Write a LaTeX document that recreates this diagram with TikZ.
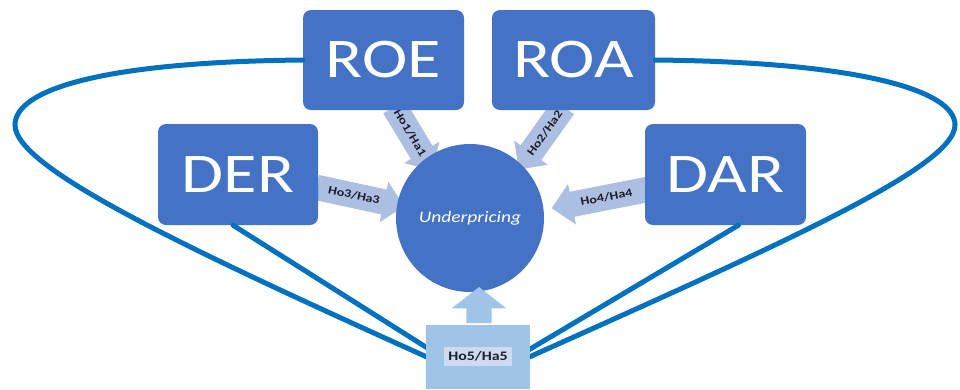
\documentclass[tikz,border=0pt]{standalone}
\usepackage{fontspec}
\setmainfont{Carlito}
\usetikzlibrary{shapes.arrows}
\definecolor{boxblue}{RGB}{68,114,196}
\definecolor{loopblue}{RGB}{0,112,192}
\definecolor{hypfill}{RGB}{172,190,226}
\definecolor{hfivefill}{RGB}{160,196,232}
\definecolor{hyplab}{RGB}{205,218,240}
\definecolor{hyptext}{RGB}{30,30,40}
\newcommand{\wide}[1]{\scalebox{1.22}[1]{#1}}
\tikzset{
  varbox/.style={fill=boxblue, rounded corners=8pt, text=white, inner sep=0pt,
    font=\fontsize{56}{56}\selectfont},
  hyparrow/.style={single arrow, fill=hypfill, text=hyptext, font=\fontsize{11.5}{11.5}\selectfont\bfseries,
    single arrow head extend=8pt, inner xsep=2pt, inner ysep=8pt, text height=8pt, text depth=1pt},
  loopline/.style={draw=loopblue, line width=5pt},
}
\begin{document}
\begin{tikzpicture}[x=1pt,y=-1pt,line join=round,line cap=round]
\useasboundingbox (0,0) rectangle (960,389);
% hypothesis arrows
\node[hyparrow, minimum height=74pt, rotate=-58.9] (h1) at (410,133) {\wide{Ho1/Ha1}};
\node[hyparrow, minimum height=77pt, rotate=54.5, shape border rotate=180] (h2) at (545,133) {\wide{Ho2/Ha2}};
\node[hyparrow, minimum height=90pt, rotate=-12.2] (h3) at (354,195.5) {\wide{Ho3/Ha3}};
\node[hyparrow, minimum height=99pt, rotate=11.1, shape border rotate=180] (h4) at (606.5,197.5) {\wide{Ho4/Ha4}};
% variables
\node[varbox, minimum width=161pt, minimum height=100pt] (roe) at (383.5,60) {\wide{ROE}};
\node[varbox, minimum width=163pt, minimum height=100pt] (roa) at (573.5,60) {\wide{ROA}};
\node[varbox, minimum width=160pt, minimum height=101pt] (der) at (238,174.5) {\wide{DER}};
\node[varbox, minimum width=161pt, minimum height=101pt] (dar) at (725.5,174.5) {\wide{DAR}};
\node[circle, fill=boxblue, minimum size=148pt, text=white, font=\fontsize{16}{16}\selectfont\itshape] (under) at (470,218) {\wide{Underpricing}};
% moderating loops
\coordinate (hub) at (478,380);
\draw[loopline] (roe.west) .. controls (100,62) and (15,90) .. (15,125) .. controls (15,170) and (200,255) .. (hub);
\draw[loopline] (roa.east) .. controls (858,62) and (955,90) .. (955,125) .. controls (955,170) and (756,255) .. (hub);
\draw[loopline] ([xshift=-5pt]der.south) -- (hub);
\draw[loopline] ([xshift=13pt]dar.south) -- (hub);
% Ho5 block
\node[fill=hfivefill, minimum width=104pt, minimum height=64pt, inner sep=0pt] (h5box) at (478,357) {};
\node[single arrow, fill=hfivefill, rotate=90, minimum height=36pt, inner ysep=12.5pt, inner xsep=0pt,
  single arrow head extend=14.5pt, single arrow tip angle=104] (h5arrow) at (479,310) {};
\node[fill=hyplab, text=hyptext, font=\fontsize{13}{13}\selectfont\bfseries, inner xsep=4pt, inner ysep=5pt] (h5lab) at (478,356.5) {\wide{Ho5/Ha5}};
\end{tikzpicture}
\end{document}
